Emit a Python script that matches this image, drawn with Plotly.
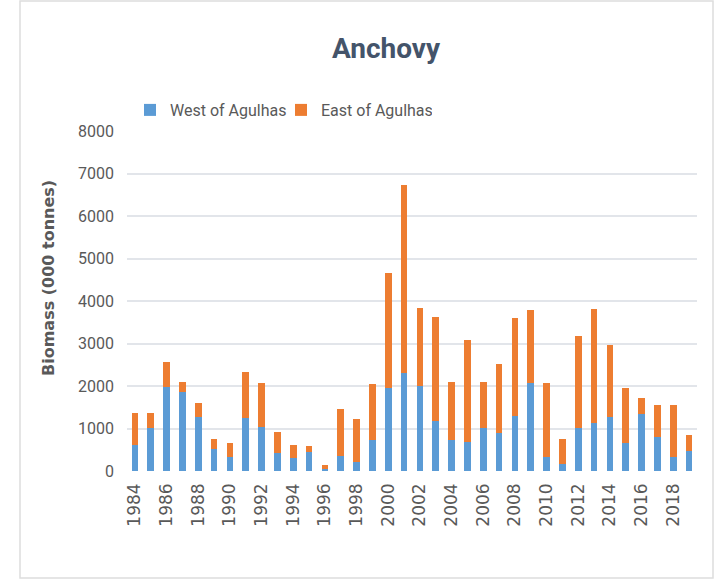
import plotly.graph_objects as go

years = list(range(1984, 2020))
west = [613, 1006, 1973, 1863, 1281, 511, 338, 1258, 1030, 424, 314, 448,
        47, 362, 204, 731, 1949, 2303, 2004, 1171, 731, 676, 1006, 888,
        1305, 2075, 338, 173, 1006, 1140, 1281, 652, 1336, 810, 338, 479]
total = [1360, 1360, 2554, 2106, 1611, 755, 652, 2326, 2075, 920, 621, 582,
         141, 1470, 1218, 2051, 4653, 6720, 3843, 3623, 2099, 3073, 2099, 2515,
         3592, 3788, 2075, 747, 3183, 3820, 2963, 1949, 1721, 1556, 1556, 841]
east = [t - w for t, w in zip(total, west)]

FONT = "Roboto, sans-serif"
GREY = "#595959"

fig = go.Figure()
fig.add_trace(go.Bar(x=years, y=west, name="West of Agulhas",
                     marker=dict(color="#5B9BD5", line=dict(width=0))))
fig.add_trace(go.Bar(x=years, y=east, name="East of Agulhas",
                     marker=dict(color="#ED7D31", line=dict(width=0))))

fig.update_layout(
    width=717, height=584,
    barmode="stack", bargap=0.57,
    plot_bgcolor="white", paper_bgcolor="white",
    margin=dict(l=127, r=20, t=131, b=113),
    font=dict(family=FONT, color=GREY, size=15),
    title=dict(text="<b>Anchovy</b>", x=386 / 717, xanchor="center",
               y=1 - 48 / 584, yanchor="middle",
               font=dict(family=FONT, size=28, color="#44546A")),
    legend=dict(orientation="h", x=(130 - 127) / 570, xanchor="left",
                y=(471 - 110) / 340, yanchor="middle",
                font=dict(family=FONT, size=16, color=GREY),
                itemwidth=30, entrywidth=106, traceorder="normal"),
    xaxis=dict(range=[1983.5, 2019.5], tickmode="linear", tick0=1984, dtick=2,
               tickangle=-90, showgrid=False, zeroline=False,
               showline=False, ticks="", ticklabelstandoff=8,
               tickfont=dict(family="DejaVu Sans, sans-serif", size=17, color=GREY)),
    yaxis=dict(range=[0, 8000], dtick=1000, showgrid=True, gridcolor="#E2E5EA",
               gridwidth=2, zeroline=False, showline=False, ticks="",
               ticklabelstandoff=12,
               tickfont=dict(family=FONT, size=16, color=GREY)),
    showlegend=True,
)

# y-axis title placed a little above the plot centre
fig.add_annotation(text="<b>Biomass (000 tonnes)</b>", textangle=-90,
                   xref="paper", yref="paper", x=(48 - 127) / 570, y=(471 - 278) / 340,
                   showarrow=False, xanchor="center", yanchor="middle",
                   font=dict(family="DejaVu Sans, sans-serif", size=16, color=GREY))

# chart frame
fig.add_shape(type="rect", xref="paper", yref="paper",
              x0=(20 - 127) / 570, x1=(713 - 127) / 570,
              y0=(471 - 578) / 340, y1=(471 - 1) / 340,
              line=dict(color="#DDDDDD", width=1.5), fillcolor="rgba(0,0,0,0)",
              layer="below")

fig.write_html("out.html")
